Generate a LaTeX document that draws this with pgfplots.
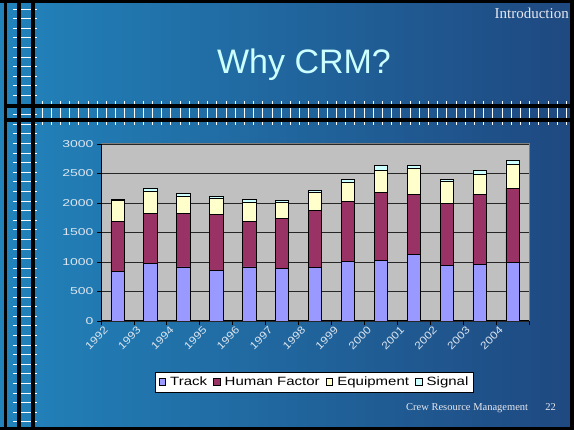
\documentclass[border=0pt]{standalone}
\usepackage{fontspec}
\setmainfont{Liberation Sans}
\newfontfamily\seriffont{Liberation Serif}
\usepackage{graphicx}
\usepackage{pgfplots}
\pgfplotsset{compat=1.18}

\definecolor{bgL}{HTML}{2283BB}
\definecolor{bgR}{HTML}{1F4880}
\definecolor{titlec}{HTML}{CCFFFF}
\definecolor{tickc}{HTML}{DCE6F0}
\definecolor{foot}{HTML}{E6E8F0}
\definecolor{plotbg}{HTML}{C0C0C0}
\definecolor{track}{HTML}{9999FF}
\definecolor{hf}{HTML}{993366}
\definecolor{eq}{HTML}{FFFFCC}
\definecolor{sig}{HTML}{CCFFFF}
\definecolor{frame}{HTML}{808080}
\newcommand\yl[1]{\scalebox{1.15}[1]{#1}}

\begin{document}
\begin{tikzpicture}[x=1pt,y=1pt]
\useasboundingbox (0,0) rectangle (574,430);
\shade[left color=bgL, right color=bgR] (0,0) rectangle (574,430);
% decorative white dashes
\foreach \k in {0,...,43} {
  \pgfmathsetmacro\yy{430-9-9.6*\k}
  \draw[white,line width=0.9pt] (13,\yy)--(16.5,\yy) (20.5,\yy)--(37,\yy);
}
\foreach \k in {0,...,57} {
  \pgfmathsetmacro\xx{42+9.2*\k}
  \draw[white,line width=0.9pt] (\xx,329)--(\xx,326) (\xx,322)--(\xx,312) (\xx,308)--(\xx,305);
}
% black lines
\fill[black] (16.7,0) rectangle (20.7,430);
\fill[black] (30.7,0) rectangle (34.7,430);
\fill[black] (4,322) rectangle (574,326);
\fill[black] (4,308) rectangle (574,312);
\fill[black] (0,427) rectangle (574,430);
\fill[black] (0,0) rectangle (574,3);
\fill[black] (4,0) rectangle (6.5,430);
\fill[black] (570,0) rectangle (574,430);
% texts
\node[anchor=base, text=titlec, font=\fontsize{34}{40}\selectfont, inner sep=0] at (304,356.7) {Why CRM?};
\node[anchor=base east, text=foot, font=\seriffont\fontsize{15}{18}\selectfont, inner sep=0] at (569,411.5) {Introduction};
\node[anchor=base west, text=foot, font=\seriffont\fontsize{10.5}{12}\selectfont, inner sep=0] at (406,19) {Crew Resource Management};
\node[anchor=base east, text=foot, font=\seriffont\fontsize{10.5}{12}\selectfont, inner sep=0] at (556,19) {22};

\begin{axis}[
  at={(101pt,109pt)}, anchor=south west,
  scale only axis, width=428pt, height=177pt,
  ybar stacked, bar width=13.3pt,
  xmin=-0.5, xmax=12.5, ymin=0, ymax=3000,
  axis background/.style={fill=plotbg},
  axis line style={draw=frame, line width=1pt},
  ytick={0,500,...,3000},
  ymajorgrids, major grid style={draw=black!85, line width=0.7pt},
  tick align=outside, ytick pos=left, xtick pos=bottom,
  major tick length=4pt,
  tick style={black, line width=0.8pt},
  xtick={-0.5,0.5,...,12.5}, xticklabels={},
  extra x ticks={0,1,2,3,4,5,6,7,8,9,10,11,12},
  extra x tick labels={\yl{1992},\yl{1993},\yl{1994},\yl{1995},\yl{1996},\yl{1997},\yl{1998},\yl{1999},\yl{2000},\yl{2001},\yl{2002},\yl{2003},\yl{2004}},
  extra x tick style={major tick length=0pt},
  /pgf/number format/assume math mode=true,
  /pgf/number format/1000 sep={},
  tick label style={text=tickc, font=\fontsize{10}{12}\selectfont},
  xticklabel style={font=\fontsize{10.5}{12}\selectfont, xshift=-9pt, yshift=-5pt, rotate=45, anchor=east},
  yticklabel={\scalebox{1.4}[1]{\pgfmathprintnumber{\tick}}},
  legend style={at={(0.4988,-0.345)}, anchor=center, legend columns=4,
    draw=black, fill=white, line width=0.8pt,
    font=\fontsize{12}{13.5}\selectfont, inner sep=2.8pt,
    /tikz/every even column/.append style={column sep=4pt}},
  legend image code/.code={\draw[#1, line width=0.6pt] (1pt,-3pt) rectangle (7.5pt,3.5pt); \path (10pt,0pt);},
]
\addplot[fill=track, draw=black, line width=0.6pt] coordinates {
(0,838) (1,974) (2,917) (3,855) (4,917) (5,889) (6,903) (7,1007) (8,1030) (9,1126) (10,945) (11,962) (12,991)};
\addplot[fill=hf, draw=black, line width=0.6pt] coordinates {
(0,849) (1,849) (2,906) (3,951) (4,770) (5,849) (6,968) (7,1025) (8,1155) (9,1025) (10,1053) (11,1189) (12,1262)};
\addplot[fill=eq, draw=black, line width=0.6pt] coordinates {
(0,362) (1,379) (2,288) (3,271) (4,317) (5,266) (6,308) (7,317) (8,368) (9,436) (10,362) (11,340) (12,402)};
\addplot[fill=sig, draw=black, line width=0.6pt] coordinates {
(0,17) (1,45) (2,46) (3,40) (4,56) (5,45) (6,37) (7,51) (8,85) (9,51) (10,40) (11,62) (12,73)};
\addlegendentry{\scalebox{1.25}[1]{Track}}
\addlegendentry{\scalebox{1.25}[1]{Human Factor}}
\addlegendentry{\scalebox{1.25}[1]{Equipment}}
\addlegendentry{\scalebox{1.25}[1]{Signal}}
\draw[black, line width=1.3pt] (rel axis cs:0,1) -- (rel axis cs:0,0) -- (rel axis cs:1,0);
\end{axis}
\end{tikzpicture}
\end{document}
